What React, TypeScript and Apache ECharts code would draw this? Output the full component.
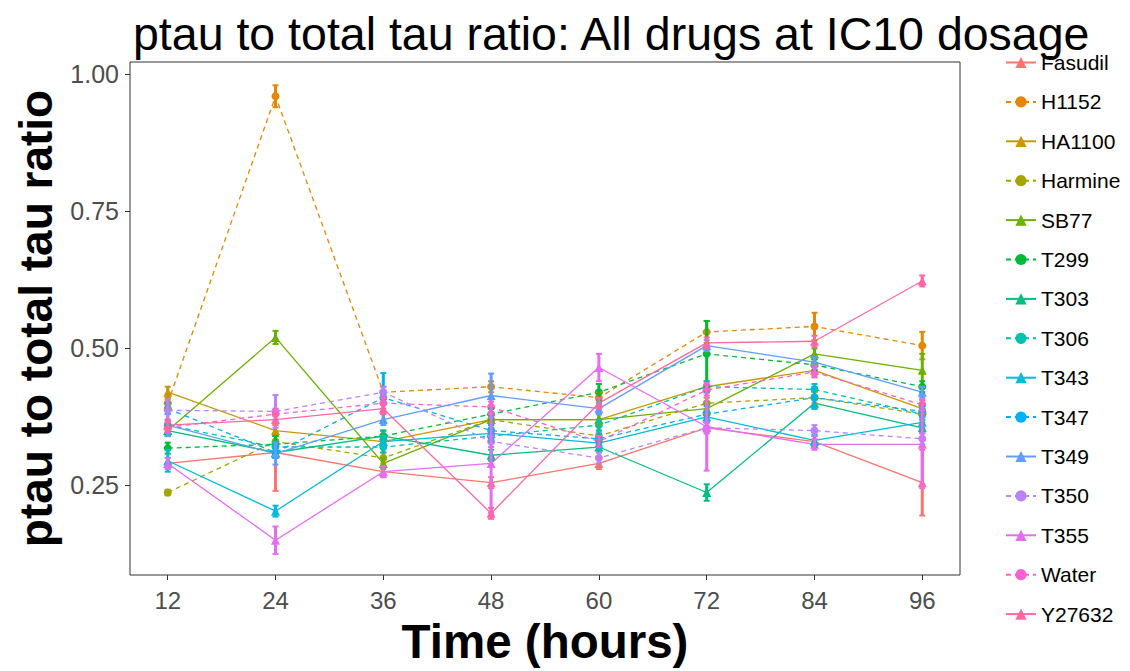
import React, { useEffect, useRef } from "react";
import * as echarts from "echarts";

const times = [12, 24, 36, 48, 60, 72, 84, 96];
const xTicks = [12, 24, 36, 48, 60, 72, 84, 96];
const yTicks = [0.25, 0.5, 0.75, 1.0];

const drugs = ["Fasudil", "H1152", "HA1100", "Harmine", "SB77", "T299", "T303", "T306", "T343", "T347", "T349", "T350", "T355", "Water", "Y27632"];
const colors = ["#F8766D", "#E58700", "#C99800", "#A3A500", "#6BB100", "#00BA38", "#00BF7D", "#00C0AF", "#00BCD8", "#00B0F6", "#619CFF", "#B983FF", "#E76BF3", "#FD61D1", "#FF67A4"];

const Fasudil = [0.29, 0.31, 0.275, 0.255, 0.29, 0.355, 0.33, 0.255];
const H1152 = [0.40, 0.96, 0.42, 0.43, 0.41, 0.53, 0.54, 0.505];
const HA1100 = [0.42, 0.35, 0.33, 0.37, 0.37, 0.43, 0.46, 0.39];
const Harmine = [0.237, 0.33, 0.30, 0.37, 0.34, 0.40, 0.41, 0.38];
const SB77 = [0.35, 0.52, 0.29, 0.37, 0.37, 0.39, 0.49, 0.46];
const T299 = [0.318, 0.325, 0.34, 0.38, 0.42, 0.49, 0.47, 0.43];
const T303 = [0.35, 0.31, 0.34, 0.305, 0.32, 0.237, 0.40, 0.355];
const T306 = [0.36, 0.32, 0.32, 0.34, 0.36, 0.43, 0.425, 0.38];
const T343 = [0.295, 0.203, 0.33, 0.345, 0.327, 0.375, 0.332, 0.365];
const T347 = [0.39, 0.31, 0.41, 0.35, 0.335, 0.38, 0.41, 0.385];
const T349 = [0.36, 0.308, 0.37, 0.414, 0.39, 0.505, 0.475, 0.42];
const T350 = [0.387, 0.385, 0.42, 0.33, 0.30, 0.355, 0.35, 0.335];
const T355 = [0.29, 0.15, 0.275, 0.29, 0.465, 0.357, 0.325, 0.325];
const Water = [0.356, 0.38, 0.40, 0.393, 0.33, 0.424, 0.457, 0.397];
const Y27632 = [0.36, 0.37, 0.39, 0.199, 0.40, 0.51, 0.513, 0.623];

const errFasudil = [0.01, 0.07, 0.01, 0.01, 0.01, 0.01, 0.01, 0.06];
const errH1152 = [0.01, 0.02, 0.01, 0.01, 0.01, 0.02, 0.025, 0.025];
const errHA1100 = [0.01, 0.01, 0.01, 0.01, 0.01, 0.01, 0.01, 0.01];
const errHarmine = [0.005, 0.01, 0.01, 0.01, 0.01, 0.01, 0.01, 0.01];
const errSB77 = [0.01, 0.012, 0.01, 0.01, 0.01, 0.01, 0.01, 0.03];
const errT299 = [0.01, 0.015, 0.01, 0.01, 0.015, 0.06, 0.01, 0.01];
const errT303 = [0.01, 0.01, 0.01, 0.01, 0.01, 0.015, 0.01, 0.01];
const errT306 = [0.01, 0.01, 0.01, 0.01, 0.01, 0.01, 0.01, 0.01];
const errT343 = [0.02, 0.01, 0.01, 0.01, 0.01, 0.01, 0.01, 0.01];
const errT347 = [0.01, 0.01, 0.045, 0.01, 0.01, 0.015, 0.02, 0.01];
const errT349 = [0.02, 0.02, 0.01, 0.04, 0.01, 0.01, 0.01, 0.01];
const errT350 = [0.02, 0.03, 0.01, 0.01, 0.01, 0.01, 0.01, 0.01];
const errT355 = [0.01, 0.025, 0.01, 0.09, 0.025, 0.08, 0.01, 0.08];
const errWater = [0.01, 0.01, 0.01, 0.01, 0.01, 0.01, 0.01, 0.01];
const errY27632 = [0.01, 0.01, 0.01, 0.01, 0.01, 0.01, 0.01, 0.01];

const values = [Fasudil, H1152, HA1100, Harmine, SB77, T299, T303, T306, T343, T347, T349, T350, T355, Water, Y27632];
const errors = [errFasudil, errH1152, errHA1100, errHarmine, errSB77, errT299, errT303, errT306, errT343, errT347, errT349, errT350, errT355, errWater, errY27632];

const FONT = "'Liberation Sans', Arial, sans-serif";

export default function App() {
  const ref = useRef<HTMLDivElement>(null);
  useEffect(() => {
    if (!ref.current) return;
    const chart = echarts.init(ref.current, null, { renderer: "svg" });
    const series: any[] = [];
    drugs.forEach((name, i) => {
      const dashed = i % 2 === 1;
      series.push({
        name,
        type: "line",
        data: times.map((t, j) => [t, values[i][j]]),
        symbol: dashed ? "circle" : "triangle",
        symbolSize: dashed ? 8 : 9,
        showSymbol: true,
        lineStyle: { width: 1.3, color: colors[i], type: dashed ? [5, 4] : "solid" },
        itemStyle: { color: colors[i] },
        z: 2,
      });
      series.push({
        name: name + "_err",
        type: "custom",
        data: times.map((t, j) => [t, values[i][j] - errors[i][j], values[i][j] + errors[i][j]]),
        renderItem: (params: any, api: any) => {
          const x = api.value(0);
          const lo = api.coord([x, api.value(1)]);
          const hi = api.coord([x, api.value(2)]);
          return {
            type: "group",
            children: [
              { type: "line", shape: { x1: lo[0], y1: lo[1], x2: hi[0], y2: hi[1] }, style: { stroke: colors[i], lineWidth: 3 } },
              { type: "line", shape: { x1: lo[0] - 3, y1: lo[1], x2: lo[0] + 3, y2: lo[1] }, style: { stroke: colors[i], lineWidth: 2 } },
              { type: "line", shape: { x1: hi[0] - 3, y1: hi[1], x2: hi[0] + 3, y2: hi[1] }, style: { stroke: colors[i], lineWidth: 2 } },
            ],
          };
        },
        z: 3,
      });
    });

    chart.setOption({
      animation: false,
      title: {
        text: "ptau to total tau ratio: All drugs at IC10 dosage",
        left: 128,
        top: 5,
        textStyle: { fontFamily: FONT, fontSize: 46.5, fontWeight: "normal", color: "#000" },
      },
      legend: {
        data: drugs,
        orient: "vertical",
        left: 1000,
        top: 47,
        itemWidth: 30,
        itemHeight: 14,
        itemGap: 18.4,
        textStyle: { fontFamily: FONT, fontSize: 21, color: "#000" },
      },
      grid: {
        left: 130,
        right: 170,
        top: 62,
        bottom: 96,
        show: true,
        borderColor: "#333",
        borderWidth: 1,
        backgroundColor: "#fff",
      },
      xAxis: {
        type: "value",
        min: 7.8,
        max: 100.2,
        name: "Time (hours)",
        nameLocation: "middle",
        nameGap: 42,
        nameTextStyle: { fontFamily: FONT, fontSize: 47.5, fontWeight: "bold", color: "#000" },
        axisLine: { show: false },
        splitLine: { show: false },
        axisTick: { show: true, length: 5, lineStyle: { color: "#333" }, customValues: xTicks },
        axisLabel: { fontFamily: FONT, fontSize: 24, color: "#4D4D4D", margin: 13, customValues: xTicks, formatter: (v: number) => String(v) },
      },
      yAxis: {
        type: "value",
        min: 0.0865,
        max: 1.0225,
        name: "ptau to total tau ratio",
        nameLocation: "middle",
        nameRotate: 90,
        nameGap: 66,
        nameTextStyle: { fontFamily: FONT, fontSize: 46, fontWeight: "bold", color: "#000" },
        axisLine: { show: false },
        splitLine: { show: false },
        axisTick: { show: true, length: 5, lineStyle: { color: "#333" }, customValues: yTicks },
        axisLabel: { fontFamily: FONT, fontSize: 25, color: "#4D4D4D", margin: 11, customValues: yTicks, formatter: (v: number) => v.toFixed(2) },
      },
      series,
    });
    return () => chart.dispose();
  }, []);
  return <div ref={ref} style={{ width: 1130, height: 671, position: "absolute", left: 0, top: 0, background: "#fff" }} />;
}
